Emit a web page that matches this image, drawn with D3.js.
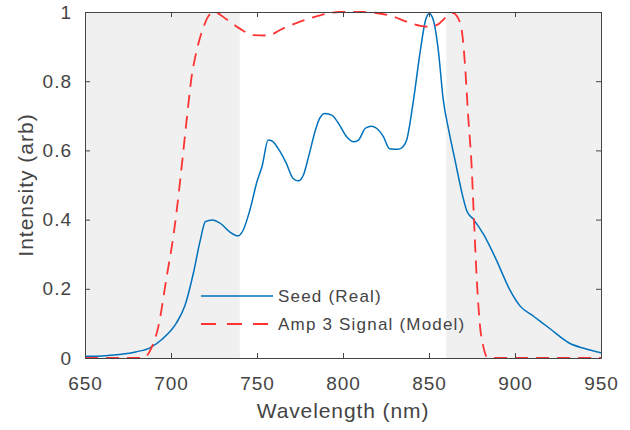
<!DOCTYPE html>
<html>
<head>
<meta charset="utf-8">
<script src="https://cdn.jsdelivr.net/npm/d3@7"></script>
<style>
  body { margin: 0; background: #fff; }
  text { font-family: "Liberation Sans", Arial, sans-serif; fill: #444; }
</style>
</head>
<body>
<div id="chart"></div>
<script>
// seed spectrum (measured)
const seedWl = [650, 660, 670, 680, 688, 695, 703, 708, 713, 717, 720, 724, 729, 734, 739, 742, 746, 750, 753, 756.5, 758.5, 763, 767, 771, 774, 777, 780, 784, 786.5, 789.5, 793.5, 798, 802, 806, 809, 813, 816.5, 819.5, 823.5, 827, 832, 835, 837, 841, 845, 848, 850.2, 852.5, 855.4, 858.3, 861.4, 865, 869.5, 872, 876, 882, 889, 897, 903, 911, 920, 932, 940, 950];
const seedVal = [0.005, 0.006, 0.01, 0.018, 0.03, 0.055, 0.10, 0.15, 0.245, 0.34, 0.394, 0.399, 0.388, 0.365, 0.353, 0.37, 0.43, 0.51, 0.555, 0.63, 0.628, 0.60, 0.563, 0.519, 0.512, 0.529, 0.582, 0.659, 0.693, 0.707, 0.702, 0.673, 0.64, 0.625, 0.63, 0.664, 0.67, 0.664, 0.64, 0.605, 0.603, 0.611, 0.63, 0.746, 0.89, 0.977, 0.996, 0.977, 0.89, 0.746, 0.66, 0.575, 0.47, 0.425, 0.40, 0.355, 0.285, 0.197, 0.15, 0.12, 0.086, 0.042, 0.028, 0.015];

// amp 3 signal (model)
const ampWl = [650, 684, 688, 692.6, 697.5, 701.3, 703.3, 706.2, 709.1, 712, 715, 719, 722, 725, 732, 740, 748, 756, 765, 775, 785, 798, 805, 812, 818, 829, 837, 845, 851, 856, 861, 864, 866, 869, 871, 872.8, 874.8, 876, 877.7, 879.7, 881.6, 883.5, 885, 950];
const ampVal = [0, 0, 0.023, 0.09, 0.235, 0.35, 0.425, 0.553, 0.688, 0.813, 0.89, 0.958, 0.99, 1.0, 0.98, 0.952, 0.933, 0.932, 0.952, 0.972, 0.988, 1.0, 1.0, 1.0, 0.998, 0.987, 0.972, 0.96, 0.957, 0.967, 0.99, 0.997, 0.99, 0.948, 0.842, 0.697, 0.553, 0.418, 0.235, 0.09, 0.033, 0.004, 0, 0];

const shadedBands = [[650, 740], [860, 950]];
const xTicks = [650, 700, 750, 800, 850, 900, 950];
const yTicks = [0, 0.2, 0.4, 0.6, 0.8, 1];
const seriesNames = ["Seed (Real)", "Amp 3 Signal (Model)"];

const W = 630, H = 430;
const margin = { top: 12, right: 29, bottom: 72, left: 85 };
const width = W - margin.left - margin.right;
const height = H - margin.top - margin.bottom;

const svg = d3.select("#chart").append("svg")
  .attr("width", W)
  .attr("height", H);

const g = svg.append("g")
  .attr("transform", `translate(${margin.left},${margin.top})`);

const x = d3.scaleLinear().domain([650, 950]).range([0, width]);
const y = d3.scaleLinear().domain([0, 1]).range([height, 0]);

g.append("defs").append("clipPath").attr("id", "plotClip")
  .append("rect").attr("x", 0).attr("y", -1).attr("width", width).attr("height", height + 2);

g.selectAll(".band")
  .data(shadedBands)
  .enter().append("rect")
  .attr("x", d => x(d[0]))
  .attr("y", 0)
  .attr("width", d => x(d[1]) - x(d[0]))
  .attr("height", height)
  .attr("fill", "#f0f0f0");

const seed = seedWl.map((w, i) => ({ w, v: seedVal[i] }));
const amp = ampWl.map((w, i) => ({ w, v: ampVal[i] }));

const line = d3.line()
  .x(d => x(d.w))
  .y(d => y(d.v))
  .curve(d3.curveMonotoneX);

const plot = g.append("g").attr("clip-path", "url(#plotClip)");

plot.append("path")
  .datum(seed)
  .attr("d", line)
  .attr("fill", "none")
  .attr("stroke", "#0072bd")
  .attr("stroke-width", 1.5);

plot.append("path")
  .datum(amp)
  .attr("d", line)
  .attr("fill", "none")
  .attr("stroke", "#ff3333")
  .attr("stroke-width", 1.8)
  .attr("stroke-dasharray", "13,8");

// axes (box with inward ticks)
const axisColor = "#444";
const xb = g.append("g")
  .attr("transform", `translate(0,${height})`)
  .call(d3.axisBottom(x).tickValues(xTicks).tickSizeInner(-5).tickSizeOuter(0));
const xt = g.append("g")
  .call(d3.axisTop(x).tickValues(xTicks).tickSizeInner(-5).tickSizeOuter(0).tickFormat(""));
const yl = g.append("g")
  .call(d3.axisLeft(y).tickValues(yTicks).tickSizeInner(-5).tickSizeOuter(0).tickPadding(13).tickFormat(d3.format("~g")));
const yr = g.append("g")
  .attr("transform", `translate(${width},0)`)
  .call(d3.axisRight(y).tickValues(yTicks).tickSizeInner(-5).tickSizeOuter(0).tickFormat(""));

[xb, xt, yl, yr].forEach(a => {
  a.selectAll(".domain").attr("stroke", axisColor).attr("stroke-width", 1);
  a.selectAll(".tick line").attr("stroke", axisColor);
  a.selectAll("text")
    .style("font-family", "'Liberation Sans', Arial, sans-serif")
    .style("font-size", "19px")
    .style("letter-spacing", "1px")
    .attr("fill", axisColor);
});

xb.selectAll("text").attr("y", 32).attr("dy", 0);

svg.append("text")
  .attr("x", margin.left + width / 2)
  .attr("y", 418)
  .attr("text-anchor", "middle")
  .style("font-size", "21px")
  .style("letter-spacing", "0.9px")
  .text("Wavelength (nm)");

svg.append("text")
  .attr("transform", `translate(33,${margin.top + height / 2}) rotate(-90)`)
  .attr("text-anchor", "middle")
  .style("font-size", "21px")
  .style("letter-spacing", "1px")
  .text("Intensity (arb)");

// legend
const legend = svg.append("g").attr("transform", "translate(201,296)");
const legendStyles = [
  { color: "#0072bd", dash: null, width: 1.5 },
  { color: "#ff3333", dash: "15,11", width: 1.8 }
];
seriesNames.forEach((name, i) => {
  const row = legend.append("g").attr("transform", `translate(0,${i * 28})`);
  row.append("line")
    .attr("x1", 0).attr("x2", 72)
    .attr("y1", 0).attr("y2", 0)
    .attr("stroke", legendStyles[i].color)
    .attr("stroke-width", legendStyles[i].width)
    .attr("stroke-dasharray", legendStyles[i].dash);
  row.append("text")
    .attr("x", 77)
    .attr("y", 0)
    .attr("dy", "0.35em")
    .style("font-size", "17px")
    .style("letter-spacing", "1.2px")
    .text(name);
});
</script>
</body>
</html>
